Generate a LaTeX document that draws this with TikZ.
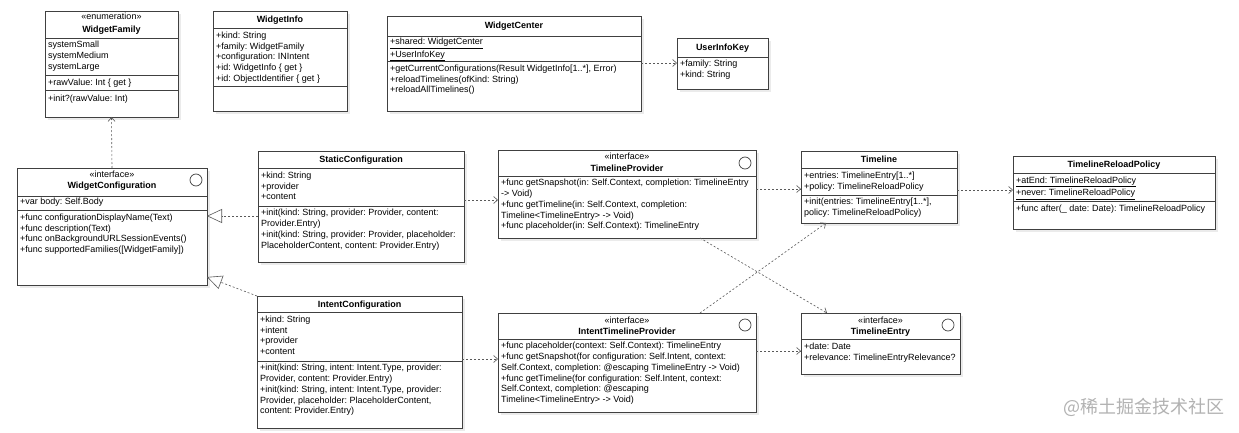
\documentclass[tikz,border=0pt]{standalone}
\usepackage{fontspec}
\setmainfont{Liberation Sans}
\newfontfamily\cjkfont{Noto Sans CJK SC}
\usetikzlibrary{arrows.meta}
\frenchspacing
\tikzset{
  clsbox/.style={draw=black!75, line width=0.7pt, fill=white, inner sep=0pt, outer sep=0pt, anchor=north west},
  clsline/.style={draw=black!75, line width=0.7pt},
  shadowbox/.style={fill=black!8},
  txt/.style={anchor=north west, inner sep=0pt, align=left, font=\fontsize{9}{10.8}\selectfont\frenchspacing},
  ctr/.style={anchor=base, inner sep=0pt, font=\fontsize{9}{10.8}\selectfont},
  ttl/.style={anchor=base, inner sep=0pt, font=\fontsize{9}{10.8}\selectfont\bfseries},
  dep/.style={draw=black!65, line width=0.6pt, dash pattern=on 2pt off 2pt, -{Straight Barb[length=4pt,width=7pt]}},
  real/.style={draw=black!65, line width=0.6pt, dash pattern=on 2pt off 2pt, -{Triangle[open,length=15pt,width=14pt,fill=white]}},
  wm/.style={inner sep=0pt, text=black!30, font=\cjkfont\fontsize{18}{20}\selectfont},
}
\newcommand\umlcls[5]{%
  \fill[shadowbox] (#2+3,#3+3) rectangle (#4+3,#5+3);
  \node[clsbox, minimum width=#4-#2, minimum height=#5-#3] (#1) at (#2,#3) {};
}
\newcommand\hdiv[2]{\draw[clsline] (#1.west |- 0,#2) -- (#1.east |- 0,#2);}
\begin{document}
\begin{tikzpicture}[x=1pt,y=-1pt]
\useasboundingbox (0,0) rectangle (1239,433);
\fill[white] (0,0) rectangle (1239,433);

% WidgetFamily
\umlcls{wfam}{45}{11}{178}{117}
\hdiv{wfam}{38}\hdiv{wfam}{75}\hdiv{wfam}{90}
\node[ctr] (wfam-s) at (111.5,20) {«enumeration»};
\node[ttl] (wfam-t) at (111.5,32.5) {WidgetFamily};
\node[txt] (wfam-a) at (48,40) {\strut systemSmall\\\strut systemMedium\\\strut systemLarge};
\node[txt] (wfam-b) at (48,77.5) {\strut +rawValue: Int \{ get \}};
\node[txt] (wfam-c) at (48,93.5) {\strut +init?(rawValue: Int)};

% WidgetInfo
\umlcls{winfo}{213}{11}{347}{111}
\hdiv{winfo}{28}\hdiv{winfo}{86}
\node[ttl] (winfo-t) at (280,22.5) {WidgetInfo};
\node[txt] (winfo-a) at (216,30.5) {\strut +kind: String\\\strut +family: WidgetFamily\\\strut +configuration: INIntent\\\strut +id: WidgetInfo \{ get \}\\\strut +id: ObjectIdentifier \{ get \}};

% WidgetCenter
\umlcls{wc}{387}{16}{641}{111}
\hdiv{wc}{36}\hdiv{wc}{61}
\node[ttl] (wc-t) at (514,28.5) {WidgetCenter};
\node[txt] (wc-a) at (390,37) {\strut \underline{+shared: WidgetCenter}\\\strut \underline{+UserInfoKey}};
\node[txt] (wc-b) at (390,63.5) {\strut +getCurrentConfigurations(Result WidgetInfo[1..*], Error)\\\strut +reloadTimelines(ofKind: String)\\\strut +reloadAllTimelines()};

% UserInfoKey
\umlcls{uik}{677}{38}{768}{89}
\hdiv{uik}{57}
\node[ttl] (uik-t) at (722.5,50.5) {UserInfoKey};
\node[txt] (uik-a) at (680,59) {\strut +family: String\\\strut +kind: String};

% WidgetConfiguration
\umlcls{wconf}{17}{168}{207}{285}
\hdiv{wconf}{196}\hdiv{wconf}{210}
\node[ctr] (wconf-s) at (112,177) {«interface»};
\node[ttl] (wconf-t) at (112,188.5) {WidgetConfiguration};
\draw[clsline] (196,180) circle[radius=6];
\node[txt] (wconf-a) at (20,197) {\strut +var body: Self.Body};
\node[txt] (wconf-b) at (20,212.5) {\strut +func configurationDisplayName(Text)\\\strut +func description(Text)\\\strut +func onBackgroundURLSessionEvents()\\\strut +func supportedFamilies([WidgetFamily])};

% StaticConfiguration
\umlcls{sconf}{258}{151}{464}{262}
\hdiv{sconf}{168}\hdiv{sconf}{206}
\node[ttl] (sconf-t) at (361,162.5) {StaticConfiguration};
\node[txt] (sconf-a) at (261,170.5) {\strut +kind: String\\\strut +provider\\\strut +content};
\node[txt] (sconf-b) at (261,208) {\strut +init(kind: String, provider: Provider, content:\\\strut Provider.Entry)\\\strut +init(kind: String, provider: Provider, placeholder:\\\strut PlaceholderContent, content: Provider.Entry)};

% IntentConfiguration
\umlcls{iconf}{257}{296}{462}{428}
\hdiv{iconf}{312}\hdiv{iconf}{361}
\node[ttl] (iconf-t) at (359.5,307.5) {IntentConfiguration};
\node[txt] (iconf-a) at (260,314.5) {\strut +kind: String\\\strut +intent\\\strut +provider\\\strut +content};
\node[txt] (iconf-b) at (260,363) {\strut +init(kind: String, intent: Intent.Type, provider:\\\strut Provider, content: Provider.Entry)\\\strut +init(kind: String, intent: Intent.Type, provider:\\\strut Provider, placeholder: PlaceholderContent,\\\strut content: Provider.Entry)};

% TimelineProvider
\umlcls{tp}{498}{150}{756}{238}
\hdiv{tp}{176}
\node[ctr] (tp-s) at (627,160) {«interface»};
\node[ttl] (tp-t) at (627,171.5) {TimelineProvider};
\draw[clsline] (745,163) circle[radius=6];
\node[txt] (tp-b) at (501,178) {\strut +func getSnapshot(in: Self.Context, completion: TimelineEntry\\\strut -> Void)\\\strut +func getTimeline(in: Self.Context, completion:\\\strut Timeline<TimelineEntry> -> Void)\\\strut +func placeholder(in: Self.Context): TimelineEntry};

% Timeline
\umlcls{tl}{801}{151}{957}{223}
\hdiv{tl}{168}\hdiv{tl}{195}
\node[ttl] (tl-t) at (879,162.5) {Timeline};
\node[txt] (tl-a) at (804,170.5) {\strut +entries: TimelineEntry[1..*]\\\strut +policy: TimelineReloadPolicy};
\node[txt] (tl-b) at (804,197) {\strut +init(entries: TimelineEntry[1..*],\\\strut policy: TimelineReloadPolicy)};

% TimelineReloadPolicy
\umlcls{trp}{1013}{156}{1215}{229}
\hdiv{trp}{173}\hdiv{trp}{201}
\node[ttl] (trp-t) at (1114,167.5) {TimelineReloadPolicy};
\node[txt] (trp-a) at (1016,175.5) {\strut \underline{+atEnd: TimelineReloadPolicy}\\\strut \underline{+never: TimelineReloadPolicy}};
\node[txt] (trp-b) at (1016,203.5) {\strut +func after(\_ date: Date): TimelineReloadPolicy};

% TimelineEntry
\umlcls{te}{801}{313}{960}{374}
\hdiv{te}{339}
\node[ctr] (te-s) at (880.5,323) {«interface»};
\node[ttl] (te-t) at (880.5,334.5) {TimelineEntry};
\draw[clsline] (948,325) circle[radius=6];
\node[txt] (te-a) at (804,341.5) {\strut +date: Date\\\strut +relevance: TimelineEntryRelevance?};

% IntentTimelineProvider
\umlcls{itp}{498}{313}{756}{412}
\hdiv{itp}{339}
\node[ctr] (itp-s) at (627,323) {«interface»};
\node[ttl] (itp-t) at (627,334.5) {IntentTimelineProvider};
\draw[clsline] (745,325) circle[radius=6];
\node[txt] (itp-b) at (501,341) {\strut +func placeholder(context: Self.Context): TimelineEntry\\\strut +func getSnapshot(for configuration: Self.Intent, context:\\\strut Self.Context, completion: @escaping TimelineEntry -> Void)\\\strut +func getTimeline(for configuration: Self.Intent, context:\\\strut Self.Context, completion: @escaping\\\strut Timeline<TimelineEntry> -> Void)};

% connectors
\draw[dep] (wconf.north) -- (wfam.south);
\draw[real] (sconf.west |- 0,216) -- (wconf.east |- 0,216);
\draw[real] (iconf.north west) -- (wconf.east |- 0,277);
\draw[dep] (wc.east |- 0,63) -- (uik.west |- 0,63);
\draw[dep] (sconf.east |- 0,200) -- (tp.west |- 0,200);
\draw[dep] (tp.east |- 0,189) -- (tl.west |- 0,189);
\draw[dep] (tl.east |- 0,190) -- (trp.west |- 0,190);
\draw[dep] (iconf.east |- 0,359) -- (itp.west |- 0,359);
\draw[dep] (itp.east |- 0,351) -- (te.west |- 0,351);
\draw[dep] (tp.south -| 700,0) -- (te.north -| 827,0);
\draw[dep] (itp.north -| 700,0) -- (tl.south -| 826,0);

% watermark
\node[wm] (wmark) at (1144,407) {@稀土掘金技术社区};
\end{tikzpicture}
\end{document}
